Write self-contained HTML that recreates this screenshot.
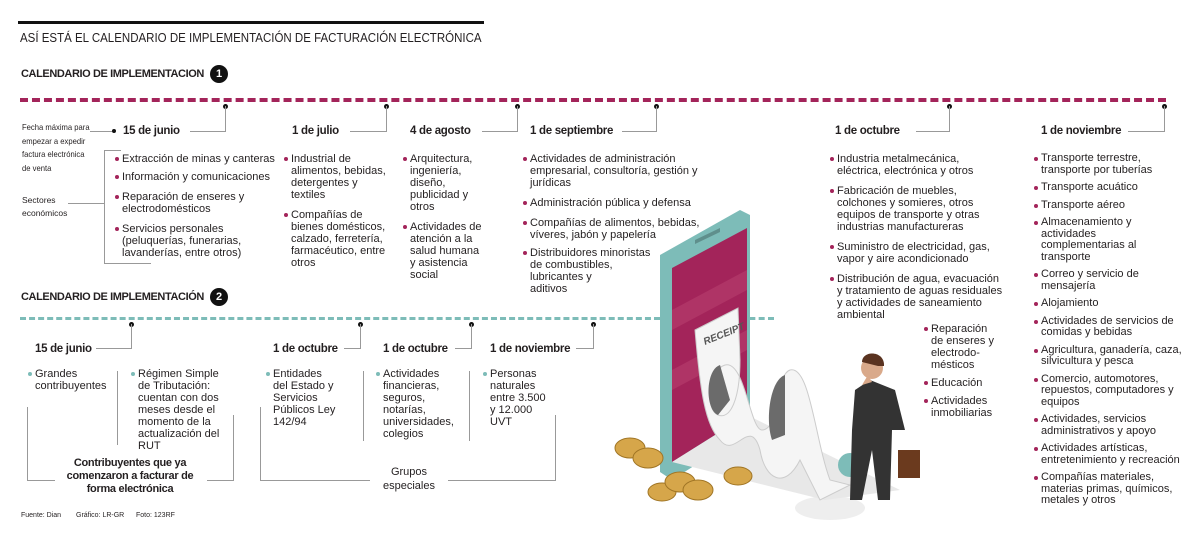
<!DOCTYPE html>
<html><head><meta charset="utf-8">
<style>
*{margin:0;padding:0;box-sizing:border-box}
body{width:1200px;height:539px;background:#fff;position:relative;overflow:hidden;font-family:"Liberation Sans Narrow","Liberation Sans",sans-serif;color:#231f20}
.a{position:absolute;white-space:nowrap}
.b{font-weight:bold;font-size:11.5px;font-family:"Liberation Sans",sans-serif;letter-spacing:-0.3px}
.h{font-weight:bold;font-size:11px;font-family:"Liberation Sans",sans-serif;letter-spacing:-0.4px}
ul{list-style:none;position:absolute;font-size:11px;line-height:12px;white-space:nowrap}
ul li{position:relative;padding-left:8px;margin-bottom:6px}
ul li:before{content:"";position:absolute;left:1px;top:4px;width:4px;height:4px;border-radius:50%;background:#a3245a}
ul.tl li:before{background:#7dbcb8}
.n{position:absolute;width:18px;height:18px;border-radius:50%;background:#111;color:#fff;font:bold 11px "Liberation Sans",sans-serif;text-align:center;line-height:18px}
.d{position:absolute;width:5px;height:5px;border-radius:50%;background:#111}
.l{position:absolute;background:#999}
.s{font-size:8.5px;line-height:11px}
</style></head><body>
<div class="a" style="left:18px;top:21px;width:466px;height:3px;background:#111"></div>
<div class="a" style="left:20px;top:30px;font-size:13px;transform:scaleX(0.885);transform-origin:left top">ASÍ ESTÁ EL CALENDARIO DE IMPLEMENTACIÓN DE FACTURACIÓN ELECTRÓNICA</div>

<div class="a h" style="left:21px;top:68px">CALENDARIO DE IMPLEMENTACION</div>
<div class="n" style="left:210px;top:65px">1</div>
<div class="a" style="left:20px;top:98px;width:1146px;height:0;border-top:4px dashed #a3245a"></div>

<div class="d" style="left:223px;top:104px"></div><div class="l" style="left:225px;top:106px;width:1px;height:26px"></div><div class="l" style="left:190px;top:131px;width:36px;height:1px"></div>
<div class="d" style="left:384px;top:104px"></div><div class="l" style="left:386px;top:106px;width:1px;height:26px"></div><div class="l" style="left:350px;top:131px;width:37px;height:1px"></div>
<div class="d" style="left:515px;top:104px"></div><div class="l" style="left:517px;top:106px;width:1px;height:26px"></div><div class="l" style="left:482px;top:131px;width:36px;height:1px"></div>
<div class="d" style="left:654px;top:104px"></div><div class="l" style="left:656px;top:106px;width:1px;height:26px"></div><div class="l" style="left:622px;top:131px;width:35px;height:1px"></div>
<div class="d" style="left:947px;top:104px"></div><div class="l" style="left:949px;top:106px;width:1px;height:26px"></div><div class="l" style="left:916px;top:131px;width:34px;height:1px"></div>
<div class="d" style="left:1162px;top:104px"></div><div class="l" style="left:1164px;top:106px;width:1px;height:26px"></div><div class="l" style="left:1128px;top:131px;width:37px;height:1px"></div>

<div class="a s" style="left:22px;top:121px;line-height:13.5px;transform:scaleX(0.9);transform-origin:left top">Fecha máxima para<br>empezar a expedir<br>factura electrónica<br>de venta</div>
<div class="l" style="left:90px;top:131px;width:22px;height:1px"></div>
<div class="d" style="left:112px;top:129px;width:4px;height:4px"></div>
<div class="a s" style="left:22px;top:194px;line-height:13px">Sectores<br>económicos</div>
<div class="l" style="left:68px;top:203px;width:37px;height:1px"></div>
<div class="l" style="left:104px;top:150px;width:1px;height:114px"></div>
<div class="l" style="left:104px;top:150px;width:17px;height:1px"></div>
<div class="l" style="left:104px;top:263px;width:47px;height:1px"></div>

<div class="a b" style="left:123px;top:125px">15 de junio</div>
<div class="a b" style="left:292px;top:125px">1 de julio</div>
<div class="a b" style="left:410px;top:125px">4 de agosto</div>
<div class="a b" style="left:530px;top:125px">1 de septiembre</div>
<div class="a b" style="left:835px;top:125px">1 de octubre</div>
<div class="a b" style="left:1041px;top:125px">1 de noviembre</div>

<ul style="left:114px;top:153px"><li style="margin-bottom:6px">Extracción de minas y canteras</li><li style="margin-bottom:8px">Información y comunicaciones</li><li style="margin-bottom:8px">Reparación de enseres y<br>electrodomésticos</li><li>Servicios personales<br>(peluquerías, funerarias,<br>lavanderías, entre otros)</li></ul>
<ul style="left:283px;top:153px"><li style="margin-bottom:8px">Industrial de<br>alimentos, bebidas,<br>detergentes y<br>textiles</li><li>Compañías de<br>bienes domésticos,<br>calzado, ferretería,<br>farmacéutico, entre<br>otros</li></ul>
<ul style="left:402px;top:153px"><li style="margin-bottom:8px">Arquitectura,<br>ingeniería,<br>diseño,<br>publicidad y<br>otros</li><li>Actividades de<br>atención a la<br>salud humana<br>y asistencia<br>social</li></ul>
<ul style="left:522px;top:153px"><li style="margin-bottom:8px">Actividades de administración<br>empresarial, consultoría, gestión y<br>jurídicas</li><li style="margin-bottom:8px">Administración pública y defensa</li><li style="margin-bottom:6px">Compañías de alimentos, bebidas,<br>víveres, jabón y papelería</li><li>Distribuidores minoristas<br>de combustibles,<br>lubricantes y<br>aditivos</li></ul>
<ul style="left:829px;top:153px"><li style="margin-bottom:8px">Industria metalmecánica,<br>eléctrica, electrónica y otros</li><li style="margin-bottom:8px">Fabricación de muebles,<br>colchones y somieres, otros<br>equipos de transporte y otras<br>industrias manufactureras</li><li style="margin-bottom:8px">Suministro de electricidad, gas,<br>vapor y aire acondicionado</li><li>Distribución de agua, evacuación<br>y tratamiento de aguas residuales<br>y actividades de saneamiento<br>ambiental</li></ul>
<ul style="left:923px;top:323px"><li style="margin-bottom:6px">Reparación<br>de enseres y<br>electrodo-<br>mésticos</li><li style="margin-bottom:6px">Educación</li><li>Actividades<br>inmobiliarias</li></ul>
<ul style="left:1033px;top:153px;line-height:11.5px"><li>Transporte terrestre,<br>transporte por tuberías</li><li>Transporte acuático</li><li>Transporte aéreo</li><li>Almacenamiento y<br>actividades<br>complementarias al<br>transporte</li><li>Correo y servicio de<br>mensajería</li><li>Alojamiento</li><li>Actividades de servicios de<br>comidas y bebidas</li><li>Agricultura, ganadería, caza,<br>silvicultura y pesca</li><li>Comercio, automotores,<br>repuestos, computadores y<br>equipos</li><li>Actividades, servicios<br>administrativos y apoyo</li><li>Actividades artísticas,<br>entretenimiento y recreación</li><li>Compañías materiales,<br>materias primas, químicos,<br>metales y otros</li></ul>

<div class="a h" style="left:21px;top:291px">CALENDARIO DE IMPLEMENTACIÓN</div>
<div class="n" style="left:210px;top:288px">2</div>
<div class="a" style="left:20px;top:317px;width:640px;height:0;border-top:3px dashed #7dbcb8"></div>
<div class="a" style="left:740px;top:317px;width:34px;height:0;border-top:3px dashed #7dbcb8"></div>

<div class="d" style="left:129px;top:322px"></div><div class="l" style="left:131px;top:324px;width:1px;height:25px"></div><div class="l" style="left:96px;top:348px;width:36px;height:1px"></div>
<div class="d" style="left:358px;top:322px"></div><div class="l" style="left:360px;top:324px;width:1px;height:25px"></div><div class="l" style="left:344px;top:348px;width:17px;height:1px"></div>
<div class="d" style="left:469px;top:322px"></div><div class="l" style="left:471px;top:324px;width:1px;height:25px"></div><div class="l" style="left:455px;top:348px;width:17px;height:1px"></div>
<div class="d" style="left:591px;top:322px"></div><div class="l" style="left:593px;top:324px;width:1px;height:25px"></div><div class="l" style="left:576px;top:348px;width:18px;height:1px"></div>

<div class="a b" style="left:35px;top:343px">15 de junio</div>
<div class="a b" style="left:273px;top:343px">1 de octubre</div>
<div class="a b" style="left:383px;top:343px">1 de octubre</div>
<div class="a b" style="left:490px;top:343px">1 de noviembre</div>

<ul class="tl" style="left:27px;top:368px"><li>Grandes<br>contribuyentes</li></ul>
<ul class="tl" style="left:130px;top:368px"><li>Régimen Simple<br>de Tributación:<br>cuentan con dos<br>meses desde el<br>momento de la<br>actualización del<br>RUT</li></ul>
<ul class="tl" style="left:265px;top:368px"><li>Entidades<br>del Estado y<br>Servicios<br>Públicos Ley<br>142/94</li></ul>
<ul class="tl" style="left:375px;top:368px"><li>Actividades<br>financieras,<br>seguros,<br>notarías,<br>universidades,<br>colegios</li></ul>
<ul class="tl" style="left:482px;top:368px"><li>Personas<br>naturales<br>entre 3.500<br>y 12.000<br>UVT</li></ul>

<div class="l" style="left:117px;top:371px;width:1px;height:74px"></div>
<div class="l" style="left:363px;top:371px;width:1px;height:70px"></div>
<div class="l" style="left:469px;top:371px;width:1px;height:70px"></div>

<div class="l" style="left:27px;top:407px;width:1px;height:74px"></div>
<div class="l" style="left:27px;top:480px;width:28px;height:1px"></div>
<div class="l" style="left:207px;top:480px;width:27px;height:1px"></div>
<div class="l" style="left:233px;top:415px;width:1px;height:66px"></div>
<div class="a b" style="left:130px;top:457px;transform:translateX(-50%);text-align:center;line-height:13px;font-size:11px">Contribuyentes que ya<br>comenzaron a facturar de<br>forma electrónica</div>

<div class="l" style="left:260px;top:407px;width:1px;height:74px"></div>
<div class="l" style="left:260px;top:480px;width:110px;height:1px"></div>
<div class="l" style="left:448px;top:480px;width:108px;height:1px"></div>
<div class="l" style="left:555px;top:415px;width:1px;height:66px"></div>
<div class="a" style="left:409px;top:465px;transform:translateX(-50%);text-align:center;line-height:14px;font-size:11px">Grupos<br>especiales</div>

<div class="a" style="left:21px;top:512px;font-size:7px">Fuente: Dian</div>
<div class="a" style="left:76px;top:512px;font-size:7px">Gráfico: LR-GR</div>
<div class="a" style="left:136px;top:512px;font-size:7px">Foto: 123RF</div>

<svg class="a" style="left:600px;top:200px" width="320" height="330" viewBox="0 0 320 330">
<ellipse cx="230" cy="308" rx="35" ry="12" fill="#eee"/>
<polygon points="60,55 140,10 150,15 150,230 72,280 60,272" fill="#7dbcb8"/>
<polygon points="72,68 147,28 147,215 72,262" fill="#a3245a"/>
<polygon points="72,110 147,70 147,90 72,130" fill="#b8406e" opacity=".6"/>
<polygon points="72,170 147,130 147,150 72,190" fill="#b8406e" opacity=".6"/>
<polygon points="95,40 120,28 120,32 95,44" fill="#5f8f8c"/>
<polygon points="72,262 147,215 300,290 225,300" fill="#e8e8e8"/>
<path d="M95,130 L138,108 L140,160 C140,200 130,220 118,215 C105,210 108,170 125,165 C145,160 150,230 162,230 C180,230 175,175 190,170 C210,165 215,240 230,280 L250,285 L220,300 L200,260 C185,290 165,280 160,250 C150,215 135,260 120,240 C105,225 100,190 95,130Z" fill="#f5f5f5" stroke="#ccc"/>
<path d="M120,165 C105,170 105,210 118,215 L130,200Z" fill="#6b6b6b"/>
<path d="M185,175 C170,180 165,220 172,240 L185,235Z" fill="#6b6b6b"/>
<text x="105" y="145" font-size="10" font-family="Liberation Sans" font-style="italic" font-weight="bold" fill="#555" transform="rotate(-22 105 145)">RECEIPT</text>
<circle cx="250" cy="265" r="12" fill="#7dbcb8"/>
<circle cx="272" cy="168" r="11" fill="#d9a98a"/>
<path d="M262,162 C262,150 285,150 284,166 L278,166 Z" fill="#5a3320"/>
<path d="M255,190 L270,180 L295,190 L305,230 L292,230 L290,300 L278,300 L272,250 L262,300 L250,300 L252,230 Z" fill="#333"/>
<path d="M262,185 L268,175 L272,182 Z" fill="#d9a98a"/>
<rect x="298" y="250" width="22" height="28" fill="#6b3a1e"/>
<g fill="#d6a64a" stroke="#a07525">
<ellipse cx="30" cy="248" rx="15" ry="10"/><ellipse cx="48" cy="258" rx="15" ry="10"/>
<ellipse cx="62" cy="292" rx="14" ry="9"/><ellipse cx="80" cy="282" rx="15" ry="10"/><ellipse cx="98" cy="290" rx="15" ry="10"/>
<ellipse cx="138" cy="276" rx="14" ry="9"/>
</g>
</svg>
</body></html>
